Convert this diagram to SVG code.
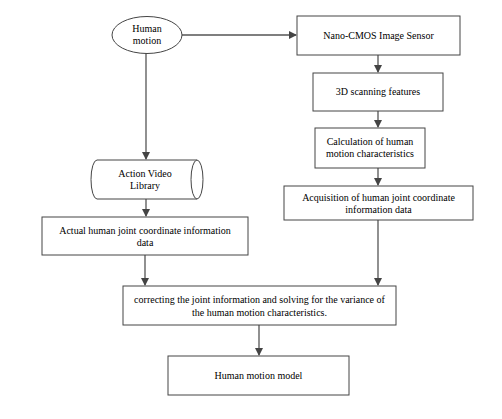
<svg xmlns="http://www.w3.org/2000/svg" width="502" height="419" viewBox="0 0 502 419">
<style>
.box{fill:#fff;stroke:#444;stroke-width:1}
.t{font-family:"Liberation Serif","Times New Roman",serif;font-size:10px;fill:#000;text-anchor:middle}
.c{stroke:#555;stroke-width:1.3;fill:none}
</style>
<defs>
<marker id="ah" markerWidth="8" markerHeight="8" refX="7" refY="4" orient="auto" markerUnits="userSpaceOnUse">
<path d="M0,0 L8,4 L0,8 Z" fill="#444"/>
</marker>
</defs>
<rect width="502" height="419" fill="#fff"/>
<g id="connectors">
<line class="c" x1="182" y1="35" x2="296" y2="35" marker-end="url(#ah)"/>
<line class="c" x1="378" y1="55" x2="378" y2="72" marker-end="url(#ah)"/>
<line class="c" x1="378" y1="111" x2="378" y2="127" marker-end="url(#ah)"/>
<line class="c" x1="378" y1="168" x2="378" y2="185" marker-end="url(#ah)"/>
<line class="c" x1="378" y1="220" x2="378" y2="285" marker-end="url(#ah)"/>
<line class="c" x1="146" y1="53" x2="146" y2="159" marker-end="url(#ah)"/>
<line class="c" x1="146" y1="199" x2="146" y2="216" marker-end="url(#ah)"/>
<line class="c" x1="145" y1="255" x2="145" y2="285" marker-end="url(#ah)"/>
<line class="c" x1="259" y1="325" x2="259" y2="355" marker-end="url(#ah)"/>
</g>
<g id="human-motion">
<ellipse class="box" cx="147" cy="35" rx="35" ry="18.5"/>
<text class="t" x="147" y="32">Human</text>
<text class="t" x="147" y="44">motion</text>
</g>
<g id="nano-cmos">
<rect class="box" x="297" y="16" width="163" height="39"/>
<text class="t" x="378.5" y="39">Nano-CMOS Image Sensor</text>
</g>
<g id="scanning">
<rect class="box" x="313" y="73" width="130" height="38"/>
<text class="t" x="378" y="95">3D scanning features</text>
</g>
<g id="calculation">
<rect class="box" x="315" y="128" width="110" height="40"/>
<text class="t" x="370" y="145">Calculation of human</text>
<text class="t" x="370" y="157">motion characteristics</text>
</g>
<g id="acquisition">
<rect class="box" x="284" y="186" width="189" height="34"/>
<text class="t" x="378.5" y="201">Acquisition of human joint coordinate</text>
<text class="t" x="378.5" y="213">information data</text>
</g>
<g id="video-library">
<path class="box" d="M97,160 L197,160 A6,19.5 0 0 1 197,199 L97,199 A6,19.5 0 0 1 97,160 Z"/>
<path class="box" d="M197,160 A6,19.5 0 0 0 197,199" fill="none"/>
<text class="t" x="145" y="177">Action Video</text>
<text class="t" x="145" y="189">Library</text>
</g>
<g id="actual-data">
<rect class="box" x="42" y="217" width="206" height="38"/>
<text class="t" x="145" y="234">Actual human joint coordinate information</text>
<text class="t" x="145" y="246">data</text>
</g>
<g id="correcting">
<rect class="box" x="123" y="286" width="273" height="39"/>
<text class="t" x="259.5" y="303">correcting the joint information and solving for the variance of</text>
<text class="t" x="259.5" y="316">the human motion characteristics.</text>
</g>
<g id="model">
<rect class="box" x="168" y="356" width="181" height="39"/>
<text class="t" x="258.5" y="379">Human motion model</text>
</g>
</svg>
